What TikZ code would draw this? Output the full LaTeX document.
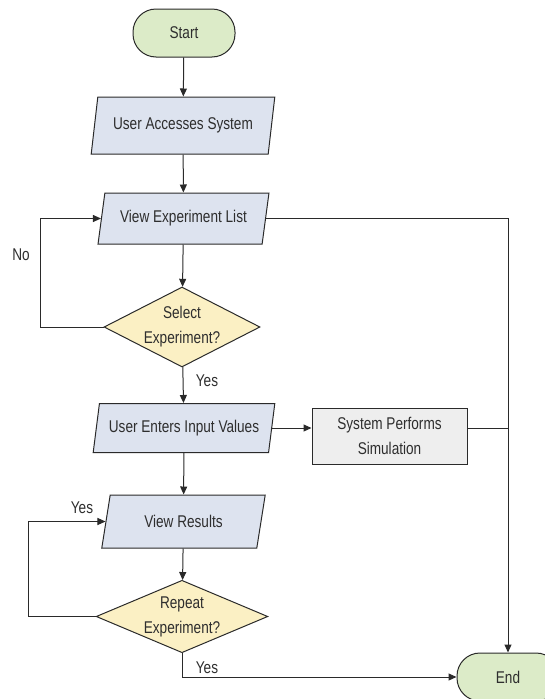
\documentclass[tikz,border=0pt]{standalone}
\usepackage{fontspec}
\setmainfont{Liberation Sans}[FakeStretch=0.8]
\usetikzlibrary{shapes.geometric,arrows.meta}
\definecolor{termfill}{HTML}{DCEBC8}
\definecolor{iofill}{HTML}{DDE3EF}
\definecolor{decfill}{HTML}{FBF0C4}
\definecolor{procfill}{HTML}{EEEEEE}
\definecolor{edgecol}{HTML}{2A2A2A}
\definecolor{txtcol}{HTML}{2E2E2E}
\begin{document}
\begin{tikzpicture}[x=1pt,y=-1pt,
  font=\fontsize{17}{25}\selectfont,
  base/.style={draw=edgecol, line width=1pt, text=txtcol, align=center},
  term/.style={base, fill=termfill, rounded corners=23pt, minimum width=102pt, minimum height=48pt},
  io/.style={base, fill=iofill, trapezium, trapezium left angle=74, trapezium right angle=106,
     trapezium stretches=true, inner sep=2pt},
  dec/.style={base, fill=decfill, diamond, inner sep=0pt},
  proc/.style={base, fill=procfill, minimum width=155pt, minimum height=56pt, inner sep=2pt},
  conn/.style={draw=edgecol, line width=1pt},
  arr/.style={conn, -{Triangle[length=8pt,width=7pt]}},
  lbl/.style={text=txtcol, inner sep=0pt}
]
\useasboundingbox (0,0) rectangle (544,699);

\node[term] (start) at (184,33) {Start};
\node[io, minimum width=184pt, minimum height=57pt] (uas) at (183,125.5) {User Accesses System};
\node[io, minimum width=171pt, minimum height=51pt] (vel) at (183.5,218.5) {View Experiment List};
\node[dec, aspect=1.95, minimum width=156pt, minimum height=80pt] (sel) at (182,327) {Select\\Experiment?};
\node[io, minimum width=182pt, minimum height=49pt] (uei) at (184,428) {User Enters Input Values};
\node[proc] (sps) at (389.5,436) {System Performs\\Simulation};
\node[io, minimum width=165pt, minimum height=53pt] (vr) at (183.5,521.5) {View Results};
\node[dec, aspect=2.37, minimum width=168pt, minimum height=71pt] (rep) at (182,616.5) {Repeat\\Experiment?};
\node[term] (end) at (508,677) {End};

\draw[arr] (start) -- (uas);
\draw[arr] (uas) -- (vel);
\draw[arr] (vel) -- (sel);
\draw[arr] (sel) -- (uei);
\draw[arr] (uei) -- (vr);
\draw[arr] (vr) -- (rep);
\draw[arr] (uei.east) -- (uei.east -| sps.west);
\draw[arr] (vel.east) -| (end.north);
\draw[conn] (sps.east |- uei.east) -- (uei.east -| end.north);
\draw[arr] (sel.west) -- ++(-63,0) |- (vel.west);
\draw[arr] (rep.west) -- ++(-67,0) |- (vr.west);
\draw[arr] (rep.south) |- (end.west);

\node[lbl] (lno) at (21,255) {No};
\node[lbl] (lyes1) at (207,381) {Yes};
\node[lbl] (lyes2) at (82,508) {Yes};
\node[lbl] (lyes3) at (207,668) {Yes};
\end{tikzpicture}
\end{document}
